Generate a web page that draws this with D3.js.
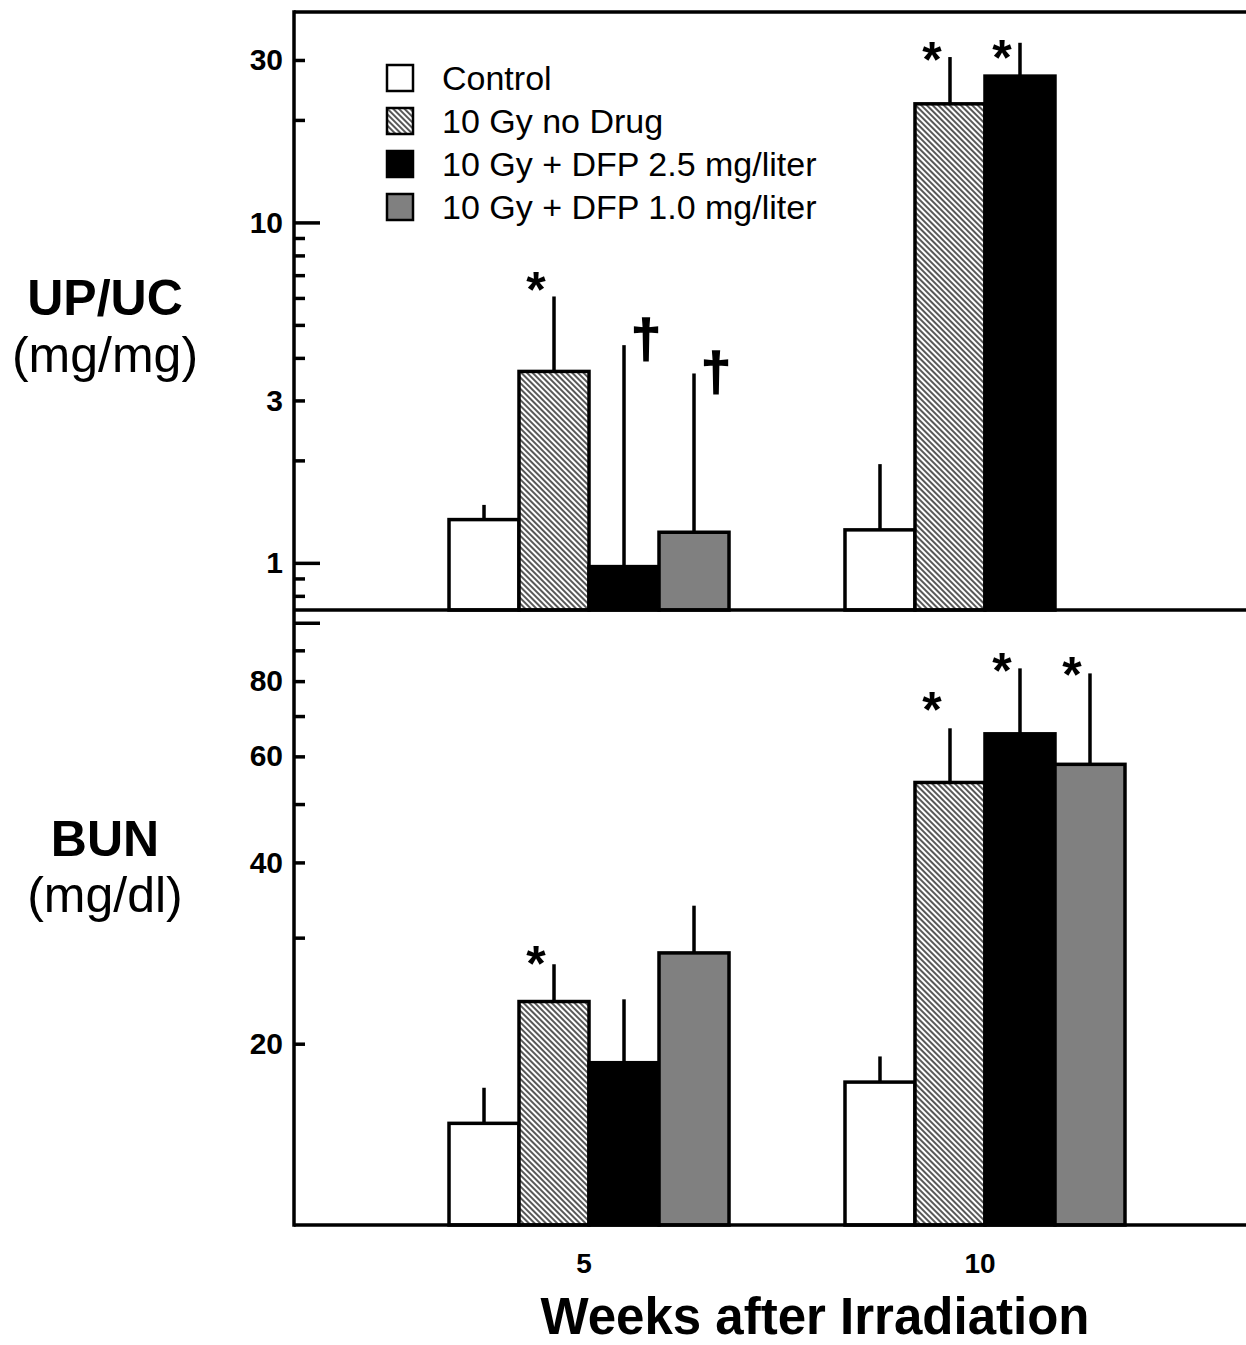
<!DOCTYPE html>
<html>
<head>
<meta charset="utf-8">
<script src="https://cdn.jsdelivr.net/npm/d3@7"></script>
<style>
body { margin: 0; background: #fff; }
svg text { font-family: "Liberation Sans", Arial, sans-serif; }
</style>
</head>
<body>
<script>
var width = 1246
var height = 1345
var left = 294
var line_width = 3.5

// data
var weeks = ["5", "10"]
var series = ["Control", "10 Gy no Drug", "10 Gy + DFP 2.5 mg/liter", "10 Gy + DFP 1.0 mg/liter"]
var fills = ["#fff", "url(#hatch)", "#000", "#808080"]

var upuc_mean = [[1.34, 3.65, 0.975, 1.23], [1.25, 22.3, 26.9, null]]
var upuc_upper = [[1.48, 6.06, 4.36, 3.6], [1.95, 30.6, 33.7, null]]
var bun_mean = [[14.75, 23.5, 18.6, 28.3], [17.27, 54.3, 65.4, 58.2]]
var bun_upper = [[16.9, 27.1, 23.7, 33.9], [19.05, 66.8, 84.0, 82.4]]

// [week, series index, symbol, level]
var upuc_marks = [["5", 1, "*", 6.8], ["5", 2, "\u2020", 4.41], ["5", 3, "\u2020", 3.55], ["10", 1, "*", 32.3], ["10", 2, "*", 32.7]]
var bun_marks = [["5", 1, "*", 28.3], ["10", 1, "*", 74.8], ["10", 2, "*", 86.8], ["10", 3, "*", 85.5]]

var upuc_ticks = [0.8, 0.9, 1, 2, 3, 4, 5, 6, 7, 8, 9, 10, 20, 30]
var upuc_labels = [1, 3, 10, 30]
var upuc_long = [1, 10]
var bun_ticks = [20, 30, 40, 50, 60, 70, 80, 90, 100]
var bun_labels = [20, 40, 60, 80]
var bun_long = [100]

var svg = d3.select("body").append("svg")
.attr("width", width)
.attr("height", height)

var defs = svg.append("defs")
var pat = defs.append("pattern")
.attr("id", "hatch")
.attr("patternUnits", "userSpaceOnUse")
.attr("width", 4)
.attr("height", 4)
.attr("patternTransform", "rotate(-45)")
pat.append("rect").attr("width", 4).attr("height", 4).attr("fill", "#fff")
pat.append("line").attr("x1", 1).attr("y1", 0).attr("x2", 1).attr("y2", 4)
.attr("stroke", "#111").attr("stroke-width", 1.4)

var x = d3.scalePoint()
.domain(weeks)
.range([left, 1280])
.padding(0.745)

var xs = d3.scaleBand()
.domain(d3.range(series.length))
.range([-140, 140])

var y_top = d3.scaleLog().domain([0.727, 41.5]).range([610, 12])
var y_bot = d3.scaleLog().domain([10, 105]).range([1225, 610])

function draw_axis(y, ticks, labels, longs) {
    var g = svg.append("g")
    .attr("transform", "translate(" + left + ",0)")
    .call(d3.axisLeft(y)
        .tickValues(ticks)
        .tickSize(-11)
        .tickPadding(11)
        .tickFormat(function(d) { return labels.indexOf(d) >= 0 ? d : "" }))
    g.select(".domain").remove()
    g.selectAll(".tick line")
    .attr("stroke", "#000")
    .attr("stroke-width", line_width)
    .attr("x2", function(d) { return longs.indexOf(d) >= 0 ? 26 : 11 })
    g.selectAll(".tick text")
    .attr("fill", "#000")
    .style("font-size", "30px")
    .style("font-weight", "bold")
    .style("font-family", "'Liberation Sans', Arial, sans-serif")
}

function draw_bars(y, means, uppers, marks) {
    var rows = []
    weeks.forEach(function(w, i) {
        series.forEach(function(s, j) {
            if (means[i][j] != null) rows.push({ week: w, s: j, v: means[i][j], up: uppers[i][j] })
        })
    })
    var base = y.range()[0]
    var g = svg.append("g")

    g.selectAll("line.err")
    .data(rows)
    .enter().append("line")
    .attr("class", "err")
    .attr("x1", function(d) { return x(d.week) + xs(d.s) + xs.bandwidth() / 2 })
    .attr("x2", function(d) { return x(d.week) + xs(d.s) + xs.bandwidth() / 2 })
    .attr("y1", function(d) { return y(d.v) })
    .attr("y2", function(d) { return y(d.up) })
    .attr("stroke", "#000")
    .attr("stroke-width", line_width)

    g.selectAll("rect")
    .data(rows)
    .enter().append("rect")
    .attr("x", function(d) { return x(d.week) + xs(d.s) })
    .attr("width", xs.bandwidth())
    .attr("y", function(d) { return y(d.v) })
    .attr("height", function(d) { return base - y(d.v) })
    .attr("fill", function(d) { return fills[d.s] })
    .attr("stroke", "#000")
    .attr("stroke-width", line_width)

    // significance marks: * left of the error bar, dagger right of it
    g.selectAll("text.mark")
    .data(marks)
    .enter().append("text")
    .attr("class", "mark")
    .attr("x", function(d) { return x(d[0]) + xs(d[1]) + xs.bandwidth() / 2 + (d[2] == "*" ? -18 : 22) })
    .attr("y", function(d) { return y(d[3]) + (d[2] == "*" ? 28 : 14) })
    .attr("text-anchor", "middle")
    .style("font-size", function(d) { return d[2] == "*" ? "50px" : "54px" })
    .style("font-weight", "bold")
    .attr("stroke", function(d) { return d[2] == "*" ? "none" : "#000" })
    .attr("stroke-width", 1.5)
    .text(function(d) { return d[2] })
}

draw_bars(y_top, upuc_mean, upuc_upper, upuc_marks)
draw_bars(y_bot, bun_mean, bun_upper, bun_marks)
draw_axis(y_top, upuc_ticks, upuc_labels, upuc_long)
draw_axis(y_bot, bun_ticks, bun_labels, bun_long)

// frame
var frame = svg.append("g").attr("stroke", "#000").attr("stroke-width", line_width)
frame.append("line").attr("x1", left).attr("x2", width).attr("y1", 12).attr("y2", 12)
frame.append("line").attr("x1", left).attr("x2", width).attr("y1", 610).attr("y2", 610)
frame.append("line").attr("x1", left).attr("x2", width).attr("y1", 1225).attr("y2", 1225)
frame.append("line").attr("x1", left).attr("x2", left).attr("y1", 10.25).attr("y2", 1226.75)

// x labels
svg.append("g").selectAll("text")
.data(weeks)
.enter().append("text")
.attr("x", function(d) { return x(d) - 5 })
.attr("y", 1273)
.attr("text-anchor", "middle")
.style("font-size", "28px")
.style("font-weight", "bold")
.text(function(d) { return d })

svg.append("text")
.attr("x", 815).attr("y", 1334)
.attr("text-anchor", "middle")
.style("font-size", "51px")
.style("font-weight", "bold")
.text("Weeks after Irradiation")

// y titles
var titles = [["UP/UC", 315, "bold"], ["(mg/mg)", 372, "normal"], ["BUN", 856, "bold"], ["(mg/dl)", 912, "normal"]]
svg.append("g").selectAll("text")
.data(titles)
.enter().append("text")
.attr("x", 105)
.attr("y", function(d) { return d[1] })
.attr("text-anchor", "middle")
.style("font-size", "50px")
.style("font-weight", function(d) { return d[2] })
.text(function(d) { return d[0] })

// legend
var legend = svg.append("g").attr("transform", "translate(387,78)")
var items = legend.selectAll("g")
.data(series)
.enter().append("g")
.attr("transform", function(d, i) { return "translate(0," + (i * 43) + ")" })
items.append("rect")
.attr("x", 0).attr("y", -13)
.attr("width", 26).attr("height", 26)
.attr("fill", function(d, i) { return fills[i] })
.attr("stroke", "#000")
.attr("stroke-width", 2.5)
items.append("text")
.attr("x", 55).attr("y", 12)
.style("font-size", "34px")
.text(function(d) { return d })
</script>
</body>
</html>
